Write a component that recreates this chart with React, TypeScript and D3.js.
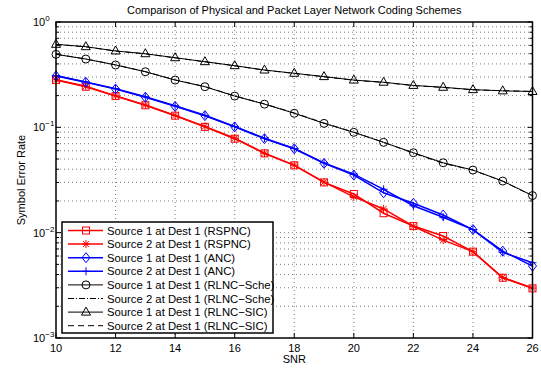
import * as d3 from "d3";

const snr = [10, 11, 12, 13, 14, 15, 16, 17, 18, 19, 20, 21, 22, 23, 24, 25, 26];
const rspnc1 = [0.281, 0.243, 0.198, 0.162, 0.129, 0.101, 0.078, 0.0566, 0.0436, 0.030, 0.0233, 0.0153, 0.01155, 0.0093, 0.0066, 0.00373, 0.00296];
const rspnc2 = [0.283, 0.245, 0.199, 0.163, 0.130, 0.102, 0.079, 0.0568, 0.0438, 0.0302, 0.0219, 0.0168, 0.0115, 0.0085, 0.0066, 0.00375, 0.00298];
const anc1 = [0.307, 0.268, 0.231, 0.193, 0.158, 0.129, 0.101, 0.078, 0.0626, 0.0455, 0.0352, 0.0239, 0.019, 0.0147, 0.0107, 0.00668, 0.00482];
const anc2 = [0.310, 0.270, 0.233, 0.195, 0.160, 0.130, 0.102, 0.079, 0.063, 0.046, 0.036, 0.0258, 0.018, 0.014, 0.0107, 0.0065, 0.00518];
const sche1 = [0.493, 0.445, 0.391, 0.337, 0.281, 0.243, 0.198, 0.166, 0.136, 0.109, 0.0896, 0.072, 0.0574, 0.0461, 0.0393, 0.0309, 0.0225];
const sche2 = [0.495, 0.446, 0.392, 0.338, 0.282, 0.244, 0.199, 0.167, 0.137, 0.110, 0.090, 0.0722, 0.0568, 0.0455, 0.0392, 0.0308, 0.0224];
const sic1 = [0.614, 0.583, 0.531, 0.500, 0.458, 0.420, 0.385, 0.350, 0.326, 0.303, 0.281, 0.268, 0.250, 0.240, 0.228, 0.222, 0.219];
const sic2 = [0.612, 0.581, 0.530, 0.498, 0.457, 0.419, 0.384, 0.349, 0.325, 0.302, 0.280, 0.267, 0.249, 0.239, 0.227, 0.223, 0.219];

const xTicks = [10, 12, 14, 16, 18, 20, 22, 24, 26];
const yDecades = [-3, -2, -1, 0];

type Marker = "square" | "star" | "diamond" | "plus" | "circle" | "none" | "triangle";
type Series = { name: string; values: number[]; color: string; width: number; dash?: string; marker: Marker };

const series: Series[] = [
  { name: "Source 1 at Dest 1 (RSPNC)", values: rspnc1, color: "#ff0000", width: 1.5, marker: "square" },
  { name: "Source 2 at Dest 1 (RSPNC)", values: rspnc2, color: "#ff0000", width: 1.5, marker: "star" },
  { name: "Source 1 at Dest 1 (ANC)", values: anc1, color: "#0000ff", width: 1.5, marker: "diamond" },
  { name: "Source 2 at Dest 1 (ANC)", values: anc2, color: "#0000ff", width: 1.5, marker: "plus" },
  { name: "Source 1 at Dest 1 (RLNC\u2212Sche)", values: sche1, color: "#000000", width: 1, marker: "circle" },
  { name: "Source 2 at Dest 1 (RLNC\u2212Sche)", values: sche2, color: "#000000", width: 1, dash: "6,2,1,2", marker: "none" },
  { name: "Source 1 at Dest 1 (RLNC\u2212SIC)", values: sic1, color: "#000000", width: 1, marker: "triangle" },
  { name: "Source 2 at Dest 1 (RLNC\u2212SIC)", values: sic2, color: "#000000", width: 1, dash: "6,4", marker: "none" },
];

const W = 541;
const H = 372;
const L = 56, R = 532.5, T = 22, B = 338;

const x = d3.scaleLinear().domain([10, 26]).range([L, R]);
const y = d3.scaleLog().domain([1e-3, 1]).range([B, T]);

function MarkerShape({ kind, cx, cy, color }: { kind: Marker; cx: number; cy: number; color: string }) {
  const sw = 1;
  switch (kind) {
    case "square":
      return <rect x={cx - 3.5} y={cy - 3.5} width={7} height={7} fill="none" stroke={color} strokeWidth={sw} />;
    case "diamond":
      return <path d={`M${cx},${cy - 5}L${cx + 4},${cy}L${cx},${cy + 5}L${cx - 4},${cy}Z`} fill="none" stroke={color} strokeWidth={sw} />;
    case "circle":
      return <circle cx={cx} cy={cy} r={4} fill="none" stroke={color} strokeWidth={sw} />;
    case "triangle":
      return <path d={`M${cx},${cy - 5}L${cx + 4.5},${cy + 3}L${cx - 4.5},${cy + 3}Z`} fill="none" stroke={color} strokeWidth={sw} />;
    case "plus":
      return <path d={`M${cx - 4},${cy}H${cx + 4}M${cx},${cy - 4}V${cy + 4}`} stroke={color} strokeWidth={sw} />;
    case "star":
      return (
        <path
          d={`M${cx - 4},${cy}H${cx + 4}M${cx},${cy - 4}V${cy + 4}M${cx - 3},${cy - 3}L${cx + 3},${cy + 3}M${cx - 3},${cy + 3}L${cx + 3},${cy - 3}`}
          stroke={color}
          strokeWidth={sw}
        />
      );
    default:
      return null;
  }
}

export default function App() {
  const line = d3
    .line<number>()
    .x((_, i) => x(snr[i]))
    .y((v) => y(v));

  const minorY: number[] = [];
  for (let e = -3; e < 0; e++) {
    for (let m = 2; m <= 9; m++) minorY.push(m * Math.pow(10, e));
  }
  const font = "'Liberation Sans', Arial, Helvetica, sans-serif";

  const legX = 62, legY = 222, legW = 211, legH = 111, rowH = 13.6;

  return (
    <svg width={W} height={H} style={{ position: "absolute", left: 0, top: 0, background: "#fff" }} fontFamily={font}>
      <rect x={0} y={0} width={W} height={H} fill="#fff" />
      {/* grid */}
      <g stroke="#444" strokeWidth={0.7} strokeDasharray="1,3">
        {xTicks.slice(1, -1).map((t) => (
          <line key={"gx" + t} x1={x(t)} x2={x(t)} y1={T} y2={B} />
        ))}
        {minorY.concat([0.01, 0.1]).map((v) => (
          <line key={"gy" + v} x1={L} x2={R} y1={y(v)} y2={y(v)} />
        ))}
      </g>
      {/* ticks */}
      <g stroke="#000" strokeWidth={1}>
        {xTicks.map((t) => (
          <g key={"tx" + t}>
            <line x1={x(t)} x2={x(t)} y1={B} y2={B - 5} />
            <line x1={x(t)} x2={x(t)} y1={T} y2={T + 5} />
          </g>
        ))}
        {yDecades.map((e) => (
          <g key={"ty" + e}>
            <line x1={L} x2={L + 5} y1={y(Math.pow(10, e))} y2={y(Math.pow(10, e))} />
            <line x1={R} x2={R - 5} y1={y(Math.pow(10, e))} y2={y(Math.pow(10, e))} />
          </g>
        ))}
        {minorY.map((v) => (
          <g key={"my" + v}>
            <line x1={L} x2={L + 3} y1={y(v)} y2={y(v)} />
            <line x1={R} x2={R - 3} y1={y(v)} y2={y(v)} />
          </g>
        ))}
      </g>
      {/* series */}
      {series.map((s) => (
        <g key={s.name}>
          <path d={line(s.values) ?? ""} fill="none" stroke={s.color} strokeWidth={s.width} strokeDasharray={s.dash} />
          {s.values.map((v, i) => (
            <MarkerShape key={i} kind={s.marker} cx={x(snr[i])} cy={y(v)} color={s.color} />
          ))}
        </g>
      ))}
      {/* frame */}
      <rect x={L} y={T} width={R - L} height={B - T} fill="none" stroke="#000" strokeWidth={1.5} />
      {/* tick labels */}
      {xTicks.map((t) => (
        <text key={"lx" + t} x={x(t)} y={352} textAnchor="middle" fontSize={11}>
          {t}
        </text>
      ))}
      {yDecades.map((e) => (
        <text key={"ly" + e} x={33} y={y(Math.pow(10, e)) + 4} fontSize={11}>
          10
          <tspan dy={-5} fontSize={8}>
            {e === 0 ? "0" : "\u2212" + -e}
          </tspan>
        </text>
      ))}
      <text x={(L + R) / 2} y={363} textAnchor="middle" fontSize={11}>
        SNR
      </text>
      <text transform={`translate(25,${(T + B) / 2}) rotate(-90)`} textAnchor="middle" fontSize={11}>
        Symbol Error Rate
      </text>
      <text x={(L + R) / 2} y={14} textAnchor="middle" fontSize={11}>
        Comparison of Physical and Packet Layer Network Coding Schemes
      </text>
      {/* legend */}
      <rect x={legX} y={legY} width={legW} height={legH} fill="#fff" stroke="#000" strokeWidth={1.5} />
      {series.map((s, i) => {
        const cy = legY + 8.5 + i * rowH;
        return (
          <g key={"leg" + i}>
            <line x1={68} x2={103} y1={cy} y2={cy} stroke={s.color} strokeWidth={s.width} strokeDasharray={s.dash} />
            <MarkerShape kind={s.marker} cx={86} cy={cy} color={s.color} />
            <text x={107} y={cy + 4} fontSize={11.3}>
              {s.name}
            </text>
          </g>
        );
      })}
    </svg>
  );
}
